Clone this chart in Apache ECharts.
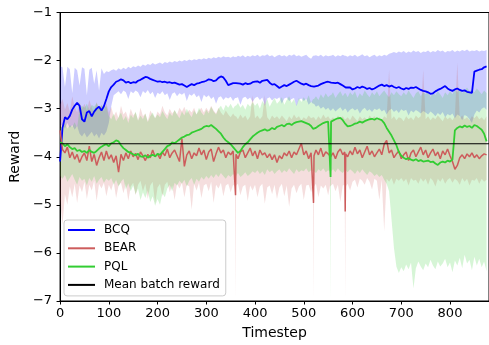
<!DOCTYPE html>
<html>
<head>
<meta charset="utf-8">
<script src="https://cdn.jsdelivr.net/npm/echarts@6/dist/echarts.min.js"></script>
<style>
  html, body { margin: 0; padding: 0; background: #fff; }
  #chart { width: 489px; height: 345px; }
</style>
</head>
<body>
<div id="chart"></div>
<script>
// Timesteps (every 5 steps, with extra samples around the sharp drops)
const timesteps = [
  0, 5, 10, 15, 20, 25, 30, 35, 40, 45,
  50, 55, 60, 65, 70, 75, 80, 85, 90, 95,
  100, 105, 110, 115, 120, 125, 130, 135, 140, 145,
  150, 155, 160, 165, 170, 175, 180, 185, 190, 195,
  200, 205, 210, 215, 220, 225, 230, 235, 240, 245,
  250, 255, 260, 265, 270, 275, 280, 285, 290, 295,
  300, 305, 310, 315, 320, 325, 330, 335, 340, 345,
  350, 355, 359, 360, 361, 365, 370, 375, 380, 385, 390, 395,
  400, 405, 410, 415, 420, 425, 430, 435, 440, 445,
  450, 455, 460, 465, 470, 475, 480, 485, 490, 495,
  500, 505, 510, 515, 519, 520, 521, 525, 530, 535, 540, 545,
  550, 554, 555, 556, 560, 565, 570, 575, 580, 584, 585, 586, 590, 595,
  600, 605, 610, 615, 620, 625, 630, 635, 640, 645,
  650, 655, 660, 665, 670, 675, 680, 685, 690, 695,
  700, 705, 710, 715, 720, 725, 730, 735, 740, 745,
  750, 755, 760, 765, 770, 775, 780, 785, 790, 795,
  800, 805, 810, 815, 820, 825, 830, 835, 840, 845,
  850, 855, 860, 865, 870, 875
];

// BCQ mean reward and its spread
const bcqMean = [
  -4.10, -3.40, -3.18, -3.22, -3.15, -3.02, -2.94, -2.88, -2.94, -3.22,
  -3.27, -3.08, -3.05, -3.16, -3.06, -3.00, -2.96, -3.04, -2.95, -2.80,
  -2.64, -2.55, -2.50, -2.44, -2.42, -2.39, -2.41, -2.46, -2.44, -2.47,
  -2.45, -2.46, -2.42, -2.40, -2.37, -2.34, -2.35, -2.38, -2.40, -2.42,
  -2.44, -2.43, -2.45, -2.44, -2.46, -2.45, -2.47, -2.46, -2.48, -2.50,
  -2.49, -2.52, -2.55, -2.52, -2.49, -2.51, -2.48, -2.47, -2.45, -2.44,
  -2.42, -2.39, -2.40, -2.43, -2.41, -2.36, -2.33, -2.35, -2.42, -2.51,
  -2.49, -2.47, -2.46, -2.47, -2.47, -2.49, -2.48, -2.50, -2.47, -2.49, -2.48, -2.45,
  -2.44, -2.43, -2.46, -2.42, -2.41, -2.40, -2.46, -2.50, -2.49, -2.53,
  -2.57, -2.54, -2.51, -2.53, -2.50, -2.47, -2.44, -2.42, -2.45, -2.48,
  -2.50, -2.48, -2.51, -2.53, -2.54, -2.54, -2.54, -2.55, -2.52, -2.49, -2.47, -2.45,
  -2.44, -2.46, -2.46, -2.46, -2.48, -2.47, -2.46, -2.49, -2.52, -2.55, -2.55, -2.56, -2.58, -2.56,
  -2.60, -2.58, -2.55, -2.57, -2.54, -2.56, -2.59, -2.57, -2.60, -2.58,
  -2.55, -2.52, -2.50, -2.53, -2.51, -2.54, -2.52, -2.55, -2.57, -2.55,
  -2.58, -2.60, -2.57, -2.59, -2.56, -2.57, -2.55, -2.58, -2.61, -2.63,
  -2.64, -2.66, -2.69, -2.68, -2.64, -2.61, -2.59, -2.56, -2.53, -2.58,
  -2.61, -2.63, -2.60, -2.58, -2.61, -2.63, -2.62, -2.65, -2.66, -2.67,
  -2.23, -2.21, -2.19, -2.18, -2.14, -2.12
];
const bcqLow = [
  -3.38, -3.32, -3.42, -3.30, -3.40, -3.34, -3.44, -3.36, -3.52, -3.58,
  -3.50, -3.60, -3.54, -3.48, -3.58, -3.52, -3.62, -3.50, -3.56, -3.48,
  -3.30, -2.95, -2.72, -2.68, -2.64, -2.70, -2.62, -2.66, -2.80, -2.64,
  -2.68, -2.62, -2.66, -2.76, -2.63, -2.68, -2.61, -2.70, -2.65, -2.78,
  -2.67, -2.70, -2.64, -2.72, -2.68, -2.82, -2.69, -2.66, -2.74, -2.68,
  -2.71, -2.67, -2.84, -2.70, -2.73, -2.68, -2.76, -2.72, -2.86, -2.71,
  -2.76, -2.72, -2.80, -2.75, -2.90, -2.77, -2.74, -2.82, -2.76, -2.79,
  -2.75, -2.84, -2.78, -2.78, -2.78, -2.76, -2.92, -2.78, -2.75, -2.81, -2.77, -2.86,
  -2.78, -2.75, -2.82, -2.77, -2.94, -2.79, -2.76, -2.83, -2.78, -2.80,
  -2.76, -2.90, -2.79, -2.77, -2.84, -2.80, -2.78, -2.95, -2.81, -2.79,
  -2.84, -2.80, -2.92, -2.86, -2.90, -2.90, -2.90, -2.96, -2.93, -3.00, -2.96, -3.02,
  -2.98, -3.04, -3.04, -3.04, -2.99, -3.06, -3.01, -2.97, -3.05, -3.00, -3.00, -3.00, -3.08, -3.02,
  -2.99, -3.04, -3.00, -3.10, -3.02, -2.98, -3.05, -3.01, -3.07, -3.00,
  -3.03, -2.99, -3.06, -3.02, -3.12, -3.04, -3.00, -3.07, -3.03, -3.09,
  -3.01, -3.05, -3.02, -3.14, -3.04, -3.08, -3.03, -3.06, -3.10, -3.05,
  -3.08, -3.12, -3.06, -3.10, -3.16, -3.09, -3.13, -3.07, -3.18, -3.11,
  -3.14, -3.10, -3.20, -3.12, -3.15, -3.24, -3.13, -3.16, -3.22, -3.30,
  -3.12, -3.04, -3.08, -3.00, -2.97, -3.02
];
const bcqHigh = [
  -2.12, -2.14, -2.55, -2.13, -2.18, -2.68, -2.15, -2.20, -2.52, -2.14,
  -2.17, -2.72, -2.19, -2.15, -2.48, -2.20, -2.62, -2.16, -2.28, -2.22,
  -2.24, -2.20, -2.18, -2.21, -2.16, -2.19, -2.15, -2.18, -2.13, -2.16,
  -2.12, -2.14, -2.10, -2.13, -2.08, -2.11, -2.07, -2.09, -2.05, -2.08,
  -2.06, -2.04, -2.07, -2.03, -2.05, -2.02, -2.04, -2.01, -2.03, -2.00,
  -2.02, -1.99, -2.01, -1.98, -2.00, -1.97, -1.99, -1.96, -1.98, -1.95,
  -1.97, -1.94, -1.96, -1.93, -1.95, -1.92, -1.94, -1.91, -1.93, -1.92,
  -1.94, -1.91, -1.93, -1.92, -1.93, -1.90, -1.92, -1.89, -1.93, -1.90, -1.92, -1.89,
  -1.91, -1.88, -1.92, -1.89, -1.90, -1.87, -1.91, -1.89, -1.93, -1.90,
  -1.88, -1.91, -1.89, -1.92, -1.88, -1.90, -1.87, -1.91, -1.89, -1.92,
  -1.90, -1.88, -1.93, -1.96, -1.90, -1.90, -1.90, -1.89, -1.91, -1.88, -1.92, -1.89,
  -1.91, -1.90, -1.90, -1.90, -1.88, -1.92, -1.89, -1.91, -1.88, -1.90, -1.90, -1.90, -1.92, -1.89,
  -1.91, -1.88, -1.92, -1.90, -1.87, -1.91, -1.89, -1.93, -1.90, -1.88,
  -1.92, -1.89, -1.91, -1.88, -1.90, -1.86, -1.84, -1.82, -1.84, -1.81,
  -1.83, -1.80, -1.84, -1.81, -1.83, -1.79, -1.82, -1.80, -1.84, -1.81,
  -1.82, -1.79, -1.83, -1.80, -1.82, -1.78, -1.81, -1.79, -1.83, -1.80,
  -1.81, -1.78, -1.82, -1.79, -1.81, -1.78, -1.80, -1.77, -1.81, -1.79,
  -1.80, -1.78, -1.81, -1.79, -1.80, -1.78
];

// BEAR mean reward and its spread
const bearMean = [
  -3.45, -3.85, -3.92, -3.80, -4.02, -3.90, -4.05, -3.95, -4.12, -4.00,
  -3.92, -4.08, -3.78, -4.10, -3.95, -4.18, -4.02, -3.90, -4.08, -3.88,
  -4.05, -3.96, -4.12, -3.98, -4.32, -3.95, -4.08, -3.92, -4.04, -3.88,
  -4.00, -3.93, -4.06, -3.90, -3.98, -4.08, -3.95, -4.02, -3.86, -4.00,
  -3.94, -4.04, -3.90, -3.98, -3.84, -4.02, -3.92, -3.86, -3.98, -4.10,
  -3.62, -4.20, -3.96, -3.88, -4.04, -3.92, -3.98, -3.82, -3.96, -3.86,
  -4.06, -3.90, -3.84, -4.10, -3.94, -3.80, -3.92, -3.86, -4.02, -3.90,
  -3.96, -3.88, -3.92, -4.80, -3.95, -4.04, -3.90, -3.86, -4.02, -3.92, -3.82, -3.98,
  -3.88, -4.04, -3.86, -3.96, -3.92, -4.02, -3.94, -4.06, -3.96, -4.12,
  -3.98, -4.04, -3.92, -3.98, -3.88, -4.02, -3.90, -3.96, -3.84, -3.72,
  -3.96, -3.88, -4.04, -3.92, -3.96, -4.96, -3.98, -3.86, -3.96, -3.82, -4.00, -3.90,
  -3.94, -3.98, -4.00, -3.96, -3.92, -4.04, -3.90, -3.84, -3.96, -3.90, -5.14, -3.94, -4.00, -3.88,
  -3.96, -3.80, -3.94, -3.86, -4.02, -3.90, -3.78, -3.96, -3.88, -4.00,
  -3.92, -3.84, -3.96, -3.74, -3.66, -3.92, -3.86, -4.02, -3.94, -3.88,
  -4.04, -3.96, -3.90, -4.08, -3.92, -3.86, -4.00, -3.90, -3.80, -3.96,
  -3.86, -4.02, -3.92, -3.84, -3.98, -3.90, -4.04, -3.88, -3.96, -3.84,
  -3.98, -4.10, -4.26, -4.18, -4.02, -3.96, -4.04, -3.94, -4.00, -3.92,
  -4.02, -3.96, -4.04, -3.98, -3.94, -3.96
];
const bearLow = [
  -4.90, -5.42, -4.78, -5.00, -4.62, -4.84, -4.56, -4.96, -4.60, -4.74,
  -4.52, -4.88, -4.58, -4.70, -4.50, -4.92, -4.56, -4.66, -4.54, -4.82,
  -4.58, -4.70, -4.52, -4.86, -4.60, -4.54, -4.76, -4.56, -4.92, -4.62,
  -4.54, -4.80, -4.58, -4.50, -4.72, -4.56, -4.88, -4.60, -4.52, -4.98,
  -4.64, -4.56, -4.82, -4.58, -4.52, -4.74, -4.60, -4.90, -4.56, -4.66,
  -4.54, -4.84, -4.58, -4.62, -5.10, -4.56, -4.70, -4.54, -4.86, -4.60,
  -4.56, -4.72, -4.52, -4.96, -4.58, -4.66, -4.54, -4.82, -4.60, -4.56,
  -4.74, -4.58, -4.62, -7.00, -4.60, -4.56, -4.80, -4.62, -4.58, -4.92, -4.60, -4.70,
  -4.58, -4.84, -4.62, -4.56, -4.98, -4.64, -4.60, -4.78, -4.58, -4.88,
  -4.64, -4.56, -4.82, -4.60, -5.04, -4.66, -4.58, -4.76, -4.62, -4.56,
  -4.90, -4.60, -4.58, -4.74, -4.60, -7.00, -4.62, -4.56, -4.84, -4.60, -4.66, -4.58,
  -4.80, -4.60, -4.62, -4.60, -4.56, -4.72, -4.58, -4.94, -4.60, -4.58, -7.00, -4.62, -4.56, -4.70,
  -4.52, -4.48, -4.64, -4.46, -4.50, -4.58, -4.44, -4.52, -4.68, -4.46,
  -4.50, -4.90, -4.48, -5.55, -4.46, -4.52, -4.44, -4.58, -4.46, -4.50,
  -4.44, -4.52, -4.46, -4.60, -4.44, -4.50, -4.48, -4.56, -4.44, -4.52,
  -4.46, -4.58, -4.44, -4.50, -4.62, -4.46, -4.52, -4.44, -4.56, -4.48,
  -4.44, -4.54, -4.46, -4.50, -4.58, -4.44, -4.52, -4.46, -4.60, -4.48,
  -4.50, -4.44, -4.56, -4.46, -4.52, -4.48
];
const bearHigh = [
  -2.92, -2.80, -3.02, -2.88, -3.06, -2.74, -2.96, -3.08, -2.86, -3.00,
  -2.90, -3.04, -2.82, -2.98, -3.10, -2.86, -3.00, -2.92, -3.06, -2.88,
  -3.08, -2.96, -3.16, -3.06, -3.20, -2.94, -3.12, -3.06, -3.22, -3.00,
  -3.14, -3.08, -3.24, -2.98, -3.16, -3.10, -3.26, -3.04, -3.12, -3.20,
  -3.06, -3.12, -2.94, -3.08, -3.14, -3.00, -3.10, -3.04, -3.12, -2.98,
  -3.06, -2.96, -3.10, -3.02, -3.08, -2.98, -3.12, -3.04, -2.98, -3.08,
  -2.98, -3.06, -2.94, -3.04, -3.10, -2.98, -3.08, -3.14, -3.04, -3.12,
  -3.18, -3.10, -3.16, -3.16, -3.16, -3.22, -3.12, -3.20, -3.14, -3.24, -3.16, -2.72,
  -3.20, -3.14, -3.22, -3.16, -2.72, -3.18, -3.24, -3.14, -3.20, -3.16,
  -3.22, -3.14, -3.20, -3.26, -3.16, -3.22, -3.12, -3.20, -3.16, -3.24,
  -3.18, -3.22, -3.14, -3.20, -3.18, -3.18, -3.18, -3.24, -3.16, -3.22, -3.12, -3.20,
  -3.16, -3.22, -3.22, -3.22, -3.18, -3.24, -3.14, -3.20, -3.16, -3.22, -3.22, -3.22, -3.18, -3.24,
  -3.14, -3.20, -3.26, -3.16, -3.22, -3.18, -3.24, -3.14, -3.20, -3.16,
  -3.22, -3.18, -3.24, -3.16, -3.20, -2.19, -3.22, -3.16, -3.24, -3.18,
  -3.20, -3.26, -3.16, -3.22, -3.18, -3.24, -3.14, -3.20, -3.16, -2.19,
  -3.22, -3.16, -3.24, -3.18, -3.22, -3.14, -3.20, -3.26, -3.16, -3.22,
  -3.18, -3.24, -3.16, -2.04, -3.20, -3.14, -3.22, -3.18, -3.24, -3.16,
  -3.20, -3.14, -3.22, -3.18, -3.24, -3.16
];

// PQL mean reward and its spread
const pqlMean = [
  -3.70, -3.72, -3.78, -3.74, -3.80, -3.84, -3.82, -3.88, -3.86, -3.90,
  -3.88, -3.92, -3.86, -3.90, -3.92, -3.88, -3.83, -3.79, -3.76, -3.74,
  -3.78, -3.72, -3.70, -3.66, -3.68, -3.76, -3.82, -3.86, -3.90, -3.92,
  -3.95, -3.97, -3.94, -3.99, -4.00, -3.97, -4.02, -3.98, -3.96, -3.99,
  -3.94, -3.96, -3.90, -3.84, -3.78, -3.76, -3.70, -3.72, -3.68, -3.64,
  -3.60, -3.58, -3.55, -3.54, -3.50, -3.48, -3.46, -3.44, -3.42, -3.38,
  -3.36, -3.37, -3.34, -3.38, -3.42, -3.47, -3.52, -3.60, -3.66, -3.70,
  -3.74, -3.80, -3.84, -3.86, -3.87, -3.92, -3.88, -3.80, -3.74, -3.70, -3.64, -3.58,
  -3.54, -3.50, -3.47, -3.45, -3.43, -3.46, -3.44, -3.40, -3.43, -3.38,
  -3.36, -3.34, -3.37, -3.32, -3.31, -3.34, -3.30, -3.28, -3.27, -3.26,
  -3.28, -3.30, -3.32, -3.36, -3.42, -3.46, -3.47, -3.40, -3.36, -3.33, -3.30, -3.28,
  -3.27, -3.28, -4.42, -3.27, -3.25, -3.22, -3.20, -3.19, -3.24, -3.30, -3.32, -3.33, -3.37, -3.36,
  -3.34, -3.31, -3.30, -3.27, -3.29, -3.26, -3.24, -3.22, -3.21, -3.23,
  -3.20, -3.22, -3.24, -3.30, -3.40, -3.48, -3.56, -3.66, -3.76, -3.90,
  -3.98, -4.02, -4.05, -4.03, -4.06, -4.08, -4.05, -4.09, -4.07, -4.10,
  -4.09, -4.08, -4.11, -4.10, -4.14, -4.17, -4.12, -4.10, -4.12, -4.08,
  -4.10, -4.06, -3.45, -3.40, -3.37, -3.39, -3.35, -3.38, -3.36, -3.40,
  -3.34, -3.36, -3.40, -3.44, -3.52, -3.68
];
const pqlLow = [
  -4.40, -4.46, -4.38, -4.52, -4.44, -4.36, -4.48, -4.58, -4.42, -4.50,
  -4.46, -4.60, -4.44, -4.52, -4.40, -4.56, -4.48, -4.42, -4.54, -4.46,
  -4.50, -4.44, -4.58, -4.48, -4.62, -4.52, -4.46, -4.68, -4.55, -4.72,
  -4.60, -4.78, -4.66, -4.90, -4.74, -4.86, -4.70, -4.94, -4.82, -5.02,
  -4.88, -5.00, -4.76, -4.84, -4.66, -4.58, -4.72, -4.54, -4.60, -4.50,
  -4.56, -4.48, -4.62, -4.50, -4.44, -4.58, -4.46, -4.52, -4.42, -4.48,
  -4.40, -4.46, -4.38, -4.44, -4.36, -4.42, -4.34, -4.40, -4.46, -4.38,
  -4.42, -4.36, -4.40, -4.40, -4.40, -4.34, -4.42, -4.38, -4.32, -4.40, -4.36, -4.30,
  -4.34, -4.28, -4.36, -4.30, -4.38, -4.26, -4.32, -4.28, -4.36, -4.30,
  -4.26, -4.34, -4.28, -4.32, -4.24, -4.30, -4.36, -4.26, -4.32, -4.28,
  -4.30, -4.24, -4.32, -4.28, -4.30, -4.30, -4.30, -4.34, -4.26, -4.30, -4.24, -4.32,
  -4.28, -4.30, -7.00, -4.30, -4.26, -4.32, -4.24, -4.30, -4.34, -4.28, -4.28, -4.28, -4.32, -4.26,
  -4.30, -4.36, -4.28, -4.34, -4.26, -4.32, -4.38, -4.30, -4.34, -4.40,
  -4.36, -4.42, -4.38, -4.48, -4.56, -4.72, -5.30, -5.90, -6.28, -6.42,
  -6.30, -6.38, -6.24, -6.34, -6.20, -6.74, -6.32, -6.18, -6.28, -6.36,
  -6.22, -6.30, -6.14, -6.26, -6.34, -6.18, -6.28, -6.22, -6.12, -6.30,
  -6.20, -6.40, -6.16, -6.26, -6.10, -6.32, -6.04, -6.22, -6.14, -6.36,
  -6.08, -6.26, -6.12, -6.30, -6.18, -6.38
];
const pqlHigh = [
  -3.40, -3.36, -3.30, -3.42, -3.34, -3.38, -3.28, -3.40, -3.00, -2.94,
  -2.98, -2.90, -3.02, -2.92, -2.96, -2.88, -3.00, -2.93, -2.97, -2.95,
  -3.15, -3.22, -3.10, -3.26, -3.18, -3.08, -3.24, -3.15, -3.30, -3.12,
  -3.20, -3.06, -3.25, -3.14, -3.22, -3.10, -3.28, -3.16, -3.08, -3.20,
  -3.12, -3.18, -3.05, -3.14, -3.22, -3.08, -3.16, -3.02, -3.12, -3.20,
  -3.06, -3.14, -3.00, -3.10, -3.18, -3.04, -3.12, -2.98, -3.08, -3.14,
  -3.02, -3.10, -2.96, -3.06, -3.12, -3.00, -2.94, -3.04, -2.92, -2.98,
  -2.90, -3.00, -2.94, -2.94, -2.94, -2.88, -2.98, -2.92, -3.02, -2.90, -2.96, -2.86,
  -2.94, -2.88, -3.00, -2.84, -2.92, -2.80, -2.96, -2.86, -2.78, -2.90,
  -2.84, -2.76, -2.92, -2.82, -2.74, -2.88, -2.80, -2.94, -2.78, -2.86,
  -2.76, -2.84, -2.72, -2.88, -2.80, -2.80, -2.80, -2.74, -2.82, -2.70, -2.78, -2.68,
  -2.76, -2.72, -2.72, -2.72, -2.66, -2.78, -2.70, -2.64, -2.74, -2.68, -2.68, -2.68, -2.76, -2.66,
  -2.72, -2.64, -2.78, -2.68, -2.74, -2.62, -2.70, -2.76, -2.66, -2.72,
  -2.64, -2.74, -2.68, -2.62, -2.70, -2.76, -2.66, -2.72, -2.64, -2.70,
  -2.74, -2.66, -2.72, -2.62, -2.70, -2.78, -2.68, -2.64, -2.74, -2.66,
  -2.70, -2.62, -2.76, -2.66, -2.72, -2.64, -2.70, -2.78, -2.66, -2.72,
  -2.64, -2.70, -2.60, -2.66, -2.58, -2.68, -2.62, -2.56, -2.64, -2.60,
  -2.66, -2.58, -2.64, -2.70, -2.62, -2.68
];

const meanBatchReward = -3.73;

const COLORS = { bcq: '#0000ff', bear: '#cd5c5c', pql: '#32cd32', mean: '#000000' };
const BAND_FILLS = {
  bcq: 'rgba(0,0,255,0.2)',
  bear: 'rgba(205,92,92,0.2)',
  pql: 'rgba(50,205,50,0.2)'
};
const FONT = 'DejaVu Sans';

const pairs = arr => timesteps.map((t, i) => [t, arr[i]]);

// Shaded band between low and high, drawn as one polygon on the grid's scales
function band(low, high, fill) {
  return {
    type: 'custom',
    silent: true,
    clip: true,
    z: 1,
    data: [[timesteps[0], low[0]]],
    encode: { x: 0, y: 1 },
    renderItem: function (params, api) {
      const pts = [];
      for (let i = 0; i < timesteps.length; i++) {
        pts.push(api.coord([timesteps[i], high[i]]));
      }
      for (let i = timesteps.length - 1; i >= 0; i--) {
        pts.push(api.coord([timesteps[i], low[i]]));
      }
      return {
        type: 'polygon',
        shape: { points: pts },
        style: { fill: fill, stroke: null }
      };
    }
  };
}

function meanLine(name, values, color, width, z) {
  return {
    type: 'line', name: name, data: values, symbol: 'none', silent: true, z: z,
    lineStyle: { color: color, width: width },
    itemStyle: { color: color }
  };
}

const chart = echarts.init(document.getElementById('chart'), null, { renderer: 'canvas' });

chart.setOption({
  animation: false,
  backgroundColor: '#ffffff',
  grid: {
    left: 58, right: -2, top: 12.5, height: 289,
    show: true, borderColor: '#000', borderWidth: 1, backgroundColor: 'transparent'
  },
  xAxis: {
    type: 'value', min: 0, max: 880, interval: 100,
    name: 'Timestep', nameLocation: 'middle', nameGap: 25,
    nameTextStyle: { fontFamily: FONT, fontSize: 14, color: '#000' },
    axisLine: { show: true, lineStyle: { color: '#000', width: 1 } },
    axisTick: { show: true, inside: false, length: 3.5, lineStyle: { color: '#000' } },
    axisLabel: { fontFamily: FONT, fontSize: 13, color: '#000', margin: 6, showMaxLabel: false },
    splitLine: { show: false }
  },
  yAxis: {
    type: 'value', min: -7, max: -1, interval: 1,
    name: 'Reward', nameLocation: 'middle', nameGap: 34, nameRotate: 90,
    nameTextStyle: { fontFamily: FONT, fontSize: 14, color: '#000' },
    axisLine: { show: true, lineStyle: { color: '#000', width: 1 } },
    axisTick: { show: true, inside: false, length: 3.5, lineStyle: { color: '#000' } },
    axisLabel: {
      fontFamily: FONT, fontSize: 13, color: '#000', margin: 8,
      formatter: v => String(v).replace('-', '\u2212')
    },
    splitLine: { show: false }
  },
  legend: {
    data: ['BCQ', 'BEAR', 'PQL', 'Mean batch reward'],
    orient: 'vertical', left: 64, top: 220,
    icon: 'rect', itemWidth: 27, itemHeight: 2, itemGap: 4.3,
    padding: [3, 6, 4, 4],
    backgroundColor: 'rgba(255,255,255,0.8)',
    borderColor: '#cccccc', borderWidth: 1, borderRadius: 3,
    textStyle: { fontFamily: FONT, fontSize: 12, color: '#000', lineHeight: 14, padding: [0, 0, 0, 4] },
    selectedMode: false
  },
  series: [
    band(bcqLow, bcqHigh, BAND_FILLS.bcq),
    band(bearLow, bearHigh, BAND_FILLS.bear),
    band(pqlLow, pqlHigh, BAND_FILLS.pql),
    meanLine('BCQ', pairs(bcqMean), COLORS.bcq, 1.8, 2),
    meanLine('BEAR', pairs(bearMean), COLORS.bear, 1.5, 2),
    meanLine('PQL', pairs(pqlMean), COLORS.pql, 1.8, 2),
    meanLine('Mean batch reward', timesteps.concat([880]).map(t => [t, meanBatchReward]), COLORS.mean, 1.2, 3)
  ]
});
</script>
</body>
</html>
